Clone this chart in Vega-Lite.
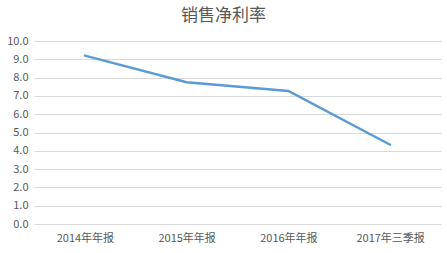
{
  "$schema": "https://vega.github.io/schema/vega-lite/v6.json",
  "autosize": "none",
  "width": 407,
  "height": 183,
  "padding": {"left": 34, "top": 41, "right": 6, "bottom": 29},
  "background": "white",
  "title": {
    "text": "销售净利率",
    "font": "Noto Sans CJK SC",
    "fontSize": 17,
    "fontWeight": "normal",
    "color": "#595959",
    "anchor": "middle",
    "dx": -14,
    "offset": 10
  },
  "config": {"view": {"stroke": null}},
  "data": {
    "values": [
      {"period": "2014年年报", "value": 9.2},
      {"period": "2015年年报", "value": 7.75},
      {"period": "2016年年报", "value": 7.27},
      {"period": "2017年三季报", "value": 4.33}
    ]
  },
  "mark": {"type": "line", "color": "#5B9BD5", "strokeWidth": 2.5, "strokeCap": "round"},
  "encoding": {
    "x": {
      "field": "period",
      "type": "nominal",
      "sort": null,
      "scale": {"type": "point", "padding": 0.5},
      "axis": {
        "title": null,
        "labelAngle": 0,
        "domain": false,
        "ticks": false,
        "grid": false,
        "labelFont": "Noto Sans CJK SC",
        "labelFontSize": 11,
        "labelColor": "#595959",
        "labelPadding": 8
      }
    },
    "y": {
      "field": "value",
      "type": "quantitative",
      "scale": {"domain": [0, 10]},
      "axis": {
        "title": null,
        "values": [0, 1, 2, 3, 4, 5, 6, 7, 8, 9, 10],
        "format": ".1f",
        "domain": false,
        "ticks": false,
        "gridColor": "#D9D9D9",
        "gridWidth": 1,
        "labelFont": "Noto Sans CJK SC",
        "labelFontSize": 11,
        "labelColor": "#595959",
        "labelPadding": 6
      }
    }
  }
}
